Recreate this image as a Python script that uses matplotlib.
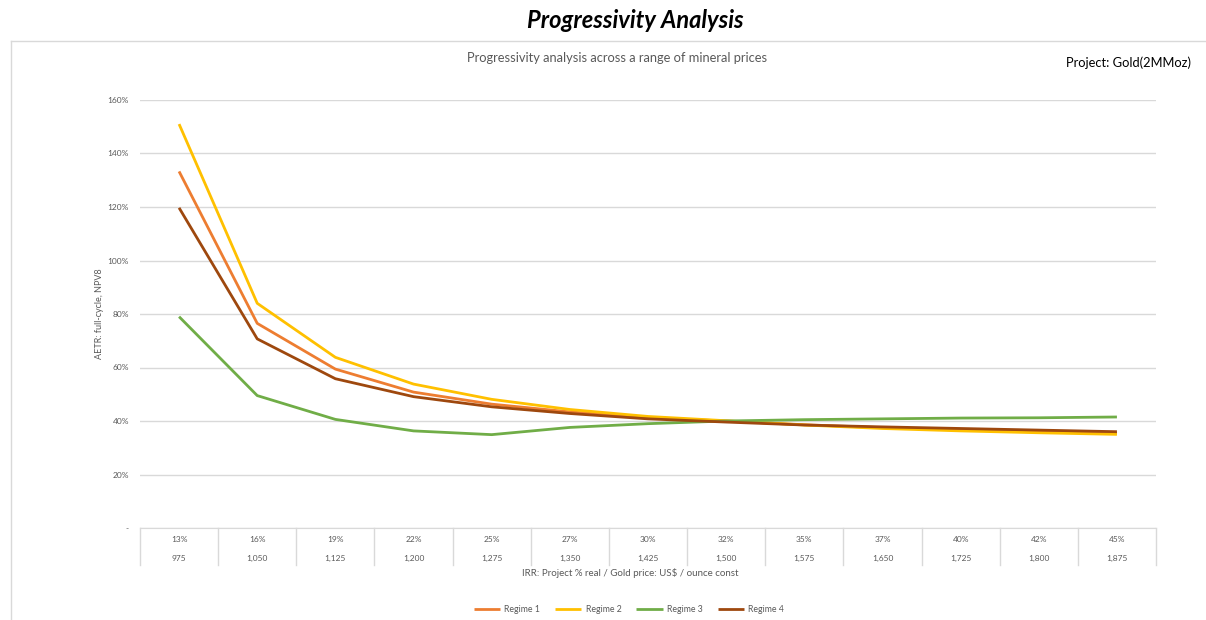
import matplotlib.pyplot as plt
from matplotlib.lines import Line2D
import matplotlib.transforms as mtransforms

plt.rcParams['font.family'] = ['Lato', 'DejaVu Sans']

# data
irr_labels = ['13%', '16%', '19%', '22%', '25%', '27%', '30%', '32%', '35%', '37%', '40%', '42%', '45%']
gold_price = ['975', '1,050', '1,125', '1,200', '1,275', '1,350', '1,425', '1,500', '1,575', '1,650', '1,725', '1,800', '1,875']

regime_1 = [133.3, 76.5, 59.4, 50.8, 46.3, 43.4, 41.2, 40.0, 38.6, 37.5, 36.7, 36.0, 35.4]
regime_2 = [151.0, 84.0, 63.8, 53.8, 48.1, 44.3, 41.7, 40.1, 38.5, 37.2, 36.3, 35.6, 35.0]
regime_3 = [79.0, 49.5, 40.6, 36.3, 34.9, 37.6, 39.0, 40.0, 40.5, 40.8, 41.1, 41.2, 41.5]
regime_4 = [119.7, 70.7, 55.8, 49.1, 45.3, 42.8, 40.8, 39.6, 38.5, 37.8, 37.2, 36.6, 36.0]

series = [('Regime 1', regime_1, '#ED7D31'),
          ('Regime 2', regime_2, '#FFC000'),
          ('Regime 3', regime_3, '#70AD47'),
          ('Regime 4', regime_4, '#9E480E')]

fig = plt.figure(figsize=(12.06, 6.2), dpi=100)
ax = fig.add_axes([140 / 1206, 1 - 528 / 620, 1016 / 1206, 428 / 620])

x = list(range(len(irr_labels)))
for name, vals, col in series:
    ax.plot(x, vals, color=col, lw=2.0, label=name, solid_capstyle='butt')

ax.set_xlim(-0.5, len(irr_labels) - 0.5)
ax.set_ylim(0, 160)
yt = [0, 20, 40, 60, 80, 100, 120, 140, 160]
ax.set_yticks(yt)
ax.set_yticklabels(['-'] + ['%d%%' % v for v in yt[1:]], fontsize=6, color='#595959')
ax.tick_params(axis='y', length=0, pad=8)
ax.set_xticks([])
ax.grid(axis='y', color='#d9d9d9', lw=1)
ax.set_axisbelow(True)
for s in ['top', 'right', 'left']:
    ax.spines[s].set_visible(False)
ax.spines['bottom'].set_color('#d9d9d9')

ax.set_ylabel('AETR: full-cycle, NPV8', fontsize=6.5, color='#595959')
ax.yaxis.set_label_coords(-36 / 1016, 0.5)

# category table under the axis
trans = mtransforms.blended_transform_factory(ax.transData, ax.transAxes)
for i in range(len(irr_labels) + 1):
    ax.plot([i - 0.5, i - 0.5], [0, -0.087], transform=trans, color='#d9d9d9', lw=1, clip_on=False)
for i in x:
    ax.text(i, -0.028, irr_labels[i], transform=trans, ha='center', va='center', fontsize=6, color='#595959')
    ax.text(i, -0.072, gold_price[i], transform=trans, ha='center', va='center', fontsize=6, color='#595959')

fig.text(630 / 1206, 1 - 573 / 620, 'IRR: Project % real / Gold price: US$ / ounce const',
         ha='center', va='center', fontsize=7, color='#595959')

# titles
fig.text(635 / 1206, 1 - 20 / 620, 'Progressivity Analysis', ha='center', va='center',
         fontsize=17, fontweight='bold', fontstyle='italic', color='black')
fig.text(617 / 1206, 1 - 58 / 620, 'Progressivity analysis across a range of mineral prices',
         ha='center', va='center', fontsize=9.3, color='#595959')
fig.text(1191 / 1206, 1 - 63 / 620, 'Project: Gold(2MMoz)', ha='right', va='center',
         fontsize=9.3, color='black')

# chart border
fig.add_artist(Line2D([11 / 1206, 1.0], [1 - 41 / 620, 1 - 41 / 620], color='#d9d9d9', lw=1))
fig.add_artist(Line2D([11 / 1206, 11 / 1206], [0, 1 - 41 / 620], color='#d9d9d9', lw=1))

leg = fig.legend(loc='center', bbox_to_anchor=(629 / 1206, 1 - 610 / 620), ncol=4, frameon=False,
                 fontsize=6.3, handlelength=3.0, columnspacing=1.7, handletextpad=0.5)
for t in leg.get_texts():
    t.set_color('#595959')

fig.savefig('out.png', dpi=100)
